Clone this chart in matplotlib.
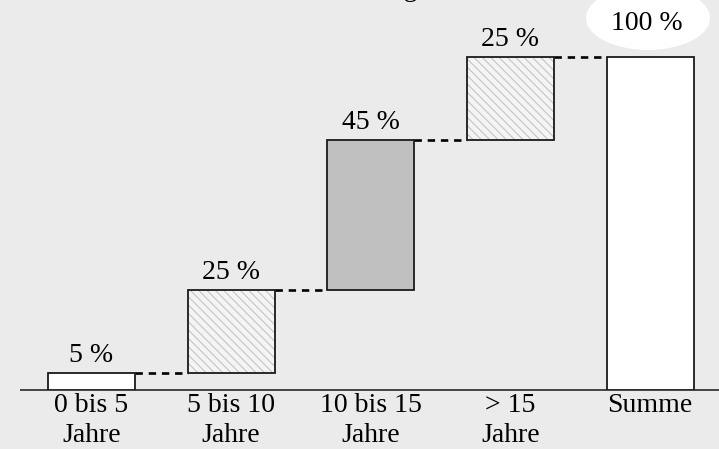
import matplotlib
matplotlib.use('Agg')
import matplotlib.pyplot as plt
from matplotlib.patches import Ellipse

# ##### DATA ######
categories = ['0 bis 5\nJahre', '5 bis 10\nJahre', '10 bis 15\nJahre', '> 15\nJahre', 'Summe']
shares = [5, 25, 45, 25, 100]
value_labels = ['5 %', '25 %', '45 %', '25 %', '100 %']
title = 'Restlaufzeitverteilung'
##################

bg = '#ebebeb'
plt.rcParams['font.family'] = ['Liberation Serif', 'DejaVu Serif']
plt.rcParams['hatch.linewidth'] = 0.8

fig = plt.figure(figsize=(7.19, 4.49), dpi=100, facecolor=bg)
ax = fig.add_axes([21 / 719, 59 / 449, 698 / 719, 390 / 449])
ax.set_facecolor(bg)

# waterfall: each step starts where the previous one ended, last bar is the total
bottoms = []
run = 0
for v in shares[:-1]:
    bottoms.append(run)
    run += v
bottoms.append(0)

x = list(range(len(shares)))
width = 0.623
styles = [
    dict(color='white', hatch=None),
    dict(color='#f4f4f4', hatch='\\\\\\\\'),
    dict(color='#c0c0c0', hatch=None),
    dict(color='#f4f4f4', hatch='\\\\\\\\'),
    dict(color='white', hatch=None),
]

for i in x:
    st = styles[i]
    if st['hatch']:
        ax.bar(x[i], shares[i], width, bottom=bottoms[i], color=st['color'],
               edgecolor='#c4c4c4', hatch=st['hatch'], linewidth=0, zorder=2)
        ax.bar(x[i], shares[i], width, bottom=bottoms[i], fill=False,
               edgecolor='#1a1a1a', linewidth=1.3, zorder=3)
    else:
        ax.bar(x[i], shares[i], width, bottom=bottoms[i], color=st['color'],
               edgecolor='#1a1a1a', linewidth=1.3, zorder=3)

# dashed connectors between bars
for i in x[:-1]:
    level = bottoms[i] + shares[i]
    ax.hlines(level, x[i] + width / 2, x[i + 1] - width / 2, colors='black',
              linestyles=(0, (2.8, 2.2)), linewidth=1.9, zorder=1)

# value labels (the total goes into the ellipse)
for i in x[:-1]:
    ax.annotate(value_labels[i], (x[i], bottoms[i] + shares[i]), xytext=(0, 8),
                textcoords='offset points', ha='center', va='baseline', fontsize=20)

ell = Ellipse((648 / 719, 1 - 18 / 449), width=124 / 719, height=64 / 449,
              transform=fig.transFigure, facecolor='white', edgecolor='none')
fig.patches.append(ell)
fig.text(647 / 719, 1 - 30 / 449, value_labels[-1], ha='center', va='baseline', fontsize=20)

# title sits mostly outside the canvas, only a descender peeks in
fig.text(418 / 719, 1 + 4 / 449, title, ha='right', va='baseline', fontsize=20)

ax.set_xlim(-0.505, 4.494)
ax.set_ylim(0, 117.1)
ax.set_xticks(x)
ax.set_xticklabels(categories, fontsize=20, linespacing=1.25)
ax.tick_params(axis='x', length=0, pad=2)
ax.set_yticks([])
for s in ['top', 'right', 'left']:
    ax.spines[s].set_visible(False)
ax.spines['bottom'].set_color('#444444')
ax.spines['bottom'].set_linewidth(1.4)

plt.savefig('out.png', dpi=100, facecolor=bg)
plt.close()
